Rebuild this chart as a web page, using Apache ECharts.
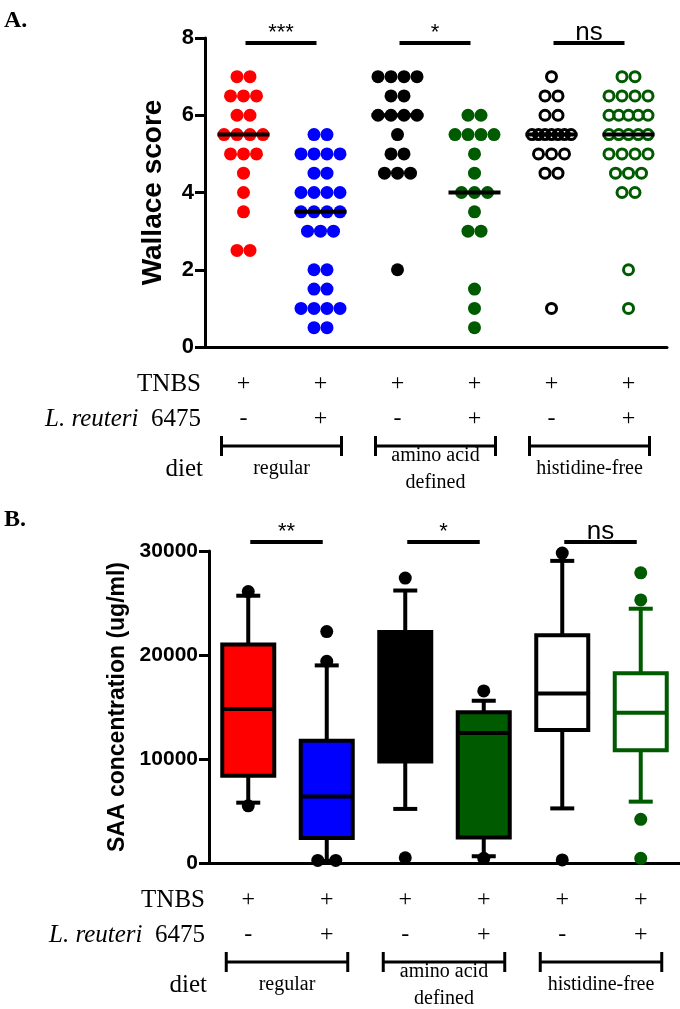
<!DOCTYPE html>
<html>
<head>
<meta charset="utf-8">
<title>Wallace score / SAA concentration</title>
<script src="https://cdn.jsdelivr.net/npm/echarts@6/dist/echarts.min.js"></script>
<style>
  html, body { margin: 0; padding: 0; background: #fff; }
  #chart { width: 680px; height: 1009px; }
</style>
</head>
<body>
<div id="chart"></div>
<script>
// treatment groups (same order in both panels)
var groups = ['regular / -', 'regular / L.reuteri', 'AA defined / -', 'AA defined / L.reuteri', 'his-free / -', 'his-free / L.reuteri'];
var tnbsRow = ['+', '+', '+', '+', '+', '+'];
var reuteriRow = ['-', '+', '-', '+', '-', '+'];
var dietNames = ['regular', 'amino acid\ndefined', 'histidine-free'];
var groupColors = ['#ff0000', '#0000ff', '#000000', '#005a00', '#000000', '#005a00'];
var openGroup = [false, false, false, false, true, true];

// panel A: Wallace score, one value per animal
var wallace0 = [7, 7, 6.5, 6.5, 6.5, 6, 6, 5.5, 5.5, 5.5, 5.5, 5, 5, 5, 4.5, 4, 3.5, 2.5, 2.5];
var wallace1 = [5.5, 5.5, 5, 5, 5, 5, 4.5, 4.5, 4, 4, 4, 4, 3.5, 3.5, 3.5, 3.5, 3, 3, 3, 2, 2, 1.5, 1.5, 1, 1, 1, 1, 0.5, 0.5];
var wallace2 = [7, 7, 7, 7, 6.5, 6.5, 6, 6, 6, 6, 5.5, 5, 5, 4.5, 4.5, 4.5, 2];
var wallace3 = [6, 6, 5.5, 5.5, 5.5, 5.5, 5, 4.5, 4, 4, 4, 3.5, 3, 3, 1.5, 1, 0.5];
var wallace4 = [7, 6.5, 6.5, 6, 6, 5.5, 5.5, 5.5, 5.5, 5.5, 5.5, 5.5, 5, 5, 5, 4.5, 4.5, 1];
var wallace5 = [7, 7, 6.5, 6.5, 6.5, 6.5, 6, 6, 6, 6, 6, 5.5, 5.5, 5.5, 5.5, 5.5, 5, 5, 5, 5, 4.5, 4.5, 4.5, 4, 4, 2, 1];
var wallace = [wallace0, wallace1, wallace2, wallace3, wallace4, wallace5];
var sigA = ['***', '*', 'ns'];

// panel B: SAA box plots [whisker low, Q1, median, Q3, whisker high]
var saaBox0 = [5800, 8400, 14800, 21000, 25700];
var saaBox1 = [200, 2400, 6400, 11750, 19000];
var saaBox2 = [5200, 9750, 15500, 22200, 26200];
var saaBox3 = [650, 2450, 12500, 14500, 15600];
var saaBox4 = [5250, 12800, 16300, 21900, 29050];
var saaBox5 = [5900, 10850, 14450, 18250, 24450];
var saaBoxes = [saaBox0, saaBox1, saaBox2, saaBox3, saaBox4, saaBox5];
// points outside the whiskers
var saaOut0 = [26100, 5500];
var saaOut1 = [22250, 19400, 250, 250];
var saaOut2 = [27400, 500];
var saaOut3 = [16550, 450];
var saaOut4 = [29800, 300];
var saaOut5 = [27900, 25300, 4200, 450];
var saaOut = [saaOut0, saaOut1, saaOut2, saaOut3, saaOut4, saaOut5];
var saaOutColors = ['#000000', '#000000', '#000000', '#000000', '#000000', '#005a00'];
var sigB = ['**', '*', 'ns'];

var serif = 'Liberation Serif';
var sans = 'Liberation Sans';

function median(arr) {
  var s = arr.slice().sort(function (a, b) { return a - b; });
  var m = Math.floor(s.length / 2);
  return s.length % 2 ? s[m] : (s[m - 1] + s[m]) / 2;
}

// horizontal spread of equal values (column scatter)
function swarmOffsets(arr, step) {
  var counts = {}, seen = {};
  arr.forEach(function (v) { counts[v] = (counts[v] || 0) + 1; });
  return arr.map(function (v) {
    var n = counts[v];
    var k = seen[v] = (seen[v] === undefined ? 0 : seen[v] + 1);
    var s = n > 4 ? step * 3 / (n - 1) : step;
    return (k - (n - 1) / 2) * s;
  });
}

var chart = echarts.init(document.getElementById('chart'));

var series = [];

// panel A dots
wallace.forEach(function (vals, g) {
  var offs = swarmOffsets(vals, 13);
  var col = groupColors[g];
  series.push({
    type: 'scatter', xAxisIndex: 0, yAxisIndex: 0,
    symbol: 'circle',
    symbolSize: openGroup[g] ? 10 : 13,
    itemStyle: openGroup[g]
      ? { color: 'rgba(0,0,0,0)', borderColor: col, borderWidth: 3, opacity: 1 }
      : { color: col, opacity: 1 },
    data: vals.map(function (v, k) { return { value: [g, v], symbolOffset: [offs[k], 0] }; }),
    z: 3
  });
});

// panel A medians
series.push({
  type: 'custom', xAxisIndex: 0, yAxisIndex: 0, z: 5,
  data: wallace.map(function (vals, g) { return [g, median(vals)]; }),
  renderItem: function (params, api) {
    var p = api.coord([api.value(0), api.value(1)]);
    return { type: 'rect', shape: { x: p[0] - 26, y: p[1] - 2, width: 52, height: 4 }, style: { fill: '#000' } };
  }
});

function sigSeries(gi, labels, yMax, dy) {
  return {
    type: 'custom', xAxisIndex: gi, yAxisIndex: gi, z: 5,
    data: [[0, 1], [2, 3], [4, 5]],
    renderItem: function (params, api) {
      var a = api.coord([api.value(0), yMax]);
      var b = api.coord([api.value(1), yMax]);
      var y = a[1] + dy;
      var lab = labels[params.dataIndex];
      var isNs = lab === 'ns';
      return {
        type: 'group', children: [
          { type: 'line', shape: { x1: a[0] + 2, y1: y, x2: b[0] - 4, y2: y }, style: { stroke: '#000', lineWidth: 4 } },
          { type: 'text', x: (a[0] + b[0]) / 2 - 1, y: isNs ? y + 3 : y + 1,
            style: { text: lab, fontSize: isNs ? 26 : 22,
              fontFamily: sans, fill: '#000', align: 'center', verticalAlign: 'bottom' } }
        ]
      };
    }
  };
}
series.push(sigSeries(0, sigA, 8, 5));
series.push(sigSeries(1, sigB, 30000, -9));

// panel B boxes
series.push({
  type: 'custom', xAxisIndex: 1, yAxisIndex: 1, z: 3,
  data: saaBoxes.map(function (b, g) { return [g].concat(b); }),
  renderItem: function (params, api) {
    var g = api.value(0);
    var lo = api.coord([g, api.value(1)]);
    var q1 = api.coord([g, api.value(2)]);
    var md = api.coord([g, api.value(3)]);
    var q3 = api.coord([g, api.value(4)]);
    var hi = api.coord([g, api.value(5)]);
    var x = lo[0], hw = 26, cw = 12;
    var stroke = openGroup[g] ? groupColors[g] : '#000';
    var fill = openGroup[g] ? '#fff' : groupColors[g];
    var ls = { stroke: stroke, lineWidth: 4 };
    return {
      type: 'group', children: [
        { type: 'line', shape: { x1: x, y1: q3[1], x2: x, y2: hi[1] }, style: ls },
        { type: 'line', shape: { x1: x - cw, y1: hi[1], x2: x + cw, y2: hi[1] }, style: ls },
        { type: 'line', shape: { x1: x, y1: q1[1], x2: x, y2: lo[1] }, style: ls },
        { type: 'line', shape: { x1: x - cw, y1: lo[1], x2: x + cw, y2: lo[1] }, style: ls },
        { type: 'rect', shape: { x: x - hw, y: q3[1], width: hw * 2, height: q1[1] - q3[1] }, style: { fill: fill, stroke: stroke, lineWidth: 4 } },
        { type: 'line', shape: { x1: x - hw, y1: md[1], x2: x + hw, y2: md[1] }, style: ls }
      ]
    };
  }
});

// panel B outlying points
saaOut.forEach(function (vals, g) {
  var offs = swarmOffsets(vals, 18);
  series.push({
    type: 'scatter', xAxisIndex: 1, yAxisIndex: 1, symbolSize: 13, z: 4,
    itemStyle: { color: saaOutColors[g], opacity: 1 },
    data: vals.map(function (v, k) { return { value: [g, v], symbolOffset: [offs[k], 0] }; })
  });
});

function xAxisFor(gi) {
  return {
    type: 'category', gridIndex: gi, data: groups,
    axisLine: { lineStyle: { color: '#000', width: 3 } },
    axisTick: { alignWithLabel: true, length: 8, lineStyle: { color: '#000', width: 3 } },
    axisLabel: {
      interval: 0, margin: 19,
      formatter: function (v, i) { return '{t|' + tnbsRow[i] + '}\n{t|' + reuteriRow[i] + '}'; },
      rich: { t: { fontFamily: serif, fontSize: 24, lineHeight: 35, color: '#000' } }
    }
  };
}
function yAxisFor(gi, name, max, interval, nameGap, nameSize, labelSize) {
  return {
    type: 'value', gridIndex: gi, min: 0, max: max, interval: interval,
    name: name, nameLocation: 'middle', nameGap: nameGap,
    nameTextStyle: { fontFamily: sans, fontWeight: 'bold', fontSize: nameSize, color: '#000' },
    axisLine: { show: true, lineStyle: { color: '#000', width: 3 } },
    axisTick: { show: true, length: 10, lineStyle: { color: '#000', width: 3 } },
    axisLabel: { fontFamily: sans, fontWeight: 'bold', fontSize: labelSize, color: '#000', margin: 11,
      formatter: function (v) { return String(v); } },
    splitLine: { show: false }
  };
}

var option = {
  animation: false,
  backgroundColor: '#fff',
  grid: [
    { left: 205, top: 38, width: 462, height: 309 },
    { left: 209, top: 551, width: 471, height: 312 }
  ],
  xAxis: [xAxisFor(0), xAxisFor(1)],
  yAxis: [
    yAxisFor(0, 'Wallace score', 8, 2, 38, 28, 22),
    yAxisFor(1, 'SAA concentration (ug/ml)', 30000, 10000, 78, 23, 21)
  ],
  series: series
};
chart.setOption(option);

// row captions, diet brackets and panel letters
var graphics = [
  { type: 'text', left: 4, top: 9, style: { text: 'A.', fontFamily: serif, fontWeight: 'bold', fontSize: 24, fill: '#000' } },
  { type: 'text', left: 4, top: 508, style: { text: 'B.', fontFamily: serif, fontWeight: 'bold', fontSize: 24, fill: '#000' } }
];
[0, 1].forEach(function (gi) {
  var axisY = chart.convertToPixel({ yAxisIndex: gi }, 0);
  var right = option.grid[gi].left - 4;
  var rowStyle = { fontFamily: serif, fontSize: 25, fill: '#000', align: 'right', verticalAlign: 'middle' };
  graphics.push({ type: 'text', x: right, y: axisY + 37, style: Object.assign({ text: 'TNBS' }, rowStyle) });
  graphics.push({ type: 'text', x: right, y: axisY + 72, style: Object.assign({
    text: '{i|L. reuteri}  6475',
    rich: { i: { fontFamily: serif, fontSize: 25, fontStyle: 'italic', fill: '#000' } }
  }, rowStyle) });
  graphics.push({ type: 'text', x: right + 2, y: axisY + 122, style: Object.assign({ text: 'diet' }, rowStyle) });
  dietNames.forEach(function (name, d) {
    var c0 = chart.convertToPixel({ xAxisIndex: gi }, groups[d * 2]);
    var c1 = chart.convertToPixel({ xAxisIndex: gi }, groups[d * 2 + 1]);
    var x0 = c0 - 22, x1 = c1 + 21, by = axisY + 99;
    var st = { stroke: '#000', lineWidth: 3 };
    graphics.push({ type: 'line', shape: { x1: x0, y1: by, x2: x1, y2: by }, style: st });
    graphics.push({ type: 'line', shape: { x1: x0, y1: by - 10, x2: x0, y2: by + 10 }, style: st });
    graphics.push({ type: 'line', shape: { x1: x1, y1: by - 10, x2: x1, y2: by + 10 }, style: st });
    graphics.push({ type: 'text', x: (x0 + x1) / 2, y: axisY + 122, style: {
      text: name, fontFamily: serif, fontSize: 20, lineHeight: 27, fill: '#000', align: 'center', verticalAlign: 'middle'
    } });
  });
});
chart.setOption({ graphic: graphics });
</script>
</body>
</html>
